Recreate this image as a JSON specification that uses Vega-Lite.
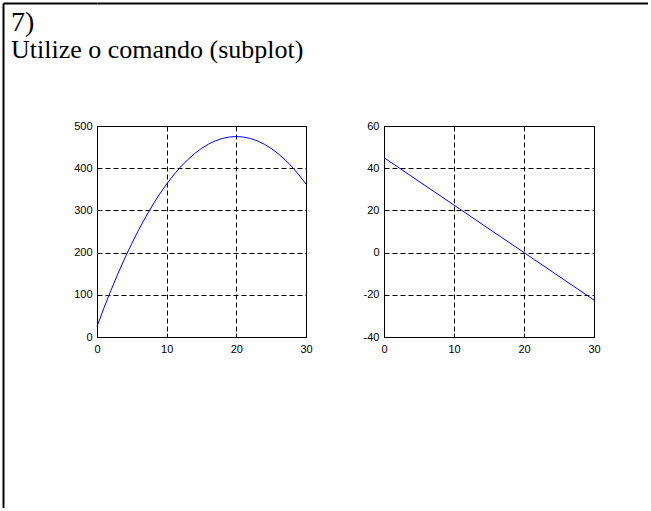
{
  "$schema": "https://vega.github.io/schema/vega-lite/v6.json",
  "background": "white",
  "padding": {"left": 3, "top": 3, "right": 0, "bottom": 0},
  "bounds": "flush",
  "spacing": 0,
  "datasets": {
    "d": [
      {"t": 0, "pos": 25, "vel": 45},
      {"t": 1, "pos": 68.875, "vel": 42.75},
      {"t": 2, "pos": 110.5, "vel": 40.5},
      {"t": 3, "pos": 149.875, "vel": 38.25},
      {"t": 4, "pos": 187, "vel": 36},
      {"t": 5, "pos": 221.875, "vel": 33.75},
      {"t": 6, "pos": 254.5, "vel": 31.5},
      {"t": 7, "pos": 284.875, "vel": 29.25},
      {"t": 8, "pos": 313, "vel": 27},
      {"t": 9, "pos": 338.875, "vel": 24.75},
      {"t": 10, "pos": 362.5, "vel": 22.5},
      {"t": 11, "pos": 383.875, "vel": 20.25},
      {"t": 12, "pos": 403, "vel": 18},
      {"t": 13, "pos": 419.875, "vel": 15.75},
      {"t": 14, "pos": 434.5, "vel": 13.5},
      {"t": 15, "pos": 446.875, "vel": 11.25},
      {"t": 16, "pos": 457, "vel": 9},
      {"t": 17, "pos": 464.875, "vel": 6.75},
      {"t": 18, "pos": 470.5, "vel": 4.5},
      {"t": 19, "pos": 473.875, "vel": 2.25},
      {"t": 20, "pos": 475, "vel": 0},
      {"t": 21, "pos": 473.875, "vel": -2.25},
      {"t": 22, "pos": 470.5, "vel": -4.5},
      {"t": 23, "pos": 464.875, "vel": -6.75},
      {"t": 24, "pos": 457, "vel": -9},
      {"t": 25, "pos": 446.875, "vel": -11.25},
      {"t": 26, "pos": 434.5, "vel": -13.5},
      {"t": 27, "pos": 419.875, "vel": -15.75},
      {"t": 28, "pos": 403, "vel": -18},
      {"t": 29, "pos": 383.875, "vel": -20.25},
      {"t": 30, "pos": 362.5, "vel": -22.5}
    ],
    "frame": [{"a": 0.5, "b": 0.5}]
  },
  "config": {
    "view": {"stroke": "black", "strokeWidth": 1},
    "axis": {
      "title": null,
      "labelFont": "Liberation Sans",
      "labelFontSize": 11,
      "labelColor": "black",
      "labelFlush": false,
      "labelOverlap": false,
      "labelExpr": "datum.value < 0 ? '-' + format(-datum.value, 'd') : format(datum.value, 'd')",
      "domainColor": "black",
      "tickColor": "black",
      "tickSize": -4,
      "gridColor": "black",
      "gridDash": [5, 3],
      "gridOpacity": 1,
      "gridWidth": 1
    },
    "axisX": {"labelPadding": 10},
    "axisY": {"labelPadding": 9}
  },
  "hconcat": [
    {
      "width": 94,
      "height": 505,
      "view": {"stroke": null},
      "data": {"name": "frame"},
      "mark": {"type": "point", "opacity": 0},
      "encoding": {
        "x": {"field": "a", "type": "quantitative", "scale": {"domain": [0, 1]},
          "axis": {"orient": "top", "domainWidth": 2, "ticks": false, "labels": false, "grid": false}},
        "y": {"field": "b", "type": "quantitative", "scale": {"domain": [0, 1]},
          "axis": {"orient": "left", "domainWidth": 2, "ticks": false, "labels": false, "grid": false}}
      }
    },
    {
      "bounds": "flush",
      "spacing": 122,
      "vconcat": [
        {
          "width": 551,
          "height": 1,
          "view": {"stroke": null},
          "data": {"name": "frame"},
          "mark": {"type": "point", "opacity": 0, "size": 1},
          "encoding": {
            "x": {"field": "a", "type": "quantitative", "scale": {"domain": [0, 1]},
              "axis": {"orient": "top", "domainWidth": 2, "ticks": false, "labels": false, "grid": false}}
          }
        },
        {
          "bounds": "flush",
          "spacing": 78,
          "title": {
            "text": "7)",
            "subtitle": "Utilize o comando (subplot)",
            "anchor": "start",
            "frame": "group",
            "dx": -86,
            "offset": 57,
            "font": "Liberation Serif",
            "fontSize": 28,
            "fontWeight": "normal",
            "color": "black",
            "subtitleFont": "Liberation Serif",
            "subtitleFontSize": 26,
            "subtitleColor": "black",
            "subtitlePadding": 0
          },
          "hconcat": [
            {
              "width": 209,
              "height": 211,
              "data": {"name": "d"},
              "mark": {"type": "line", "color": "#0000ff", "strokeWidth": 1},
              "encoding": {
                "x": {"field": "t", "type": "quantitative", "scale": {"domain": [0, 30], "nice": false},
                  "axis": {"values": [0, 10, 20, 30]}},
                "y": {"field": "pos", "type": "quantitative", "scale": {"domain": [0, 500], "nice": false},
                  "axis": {"values": [0, 100, 200, 300, 400, 500]}}
              }
            },
            {
              "width": 210,
              "height": 211,
              "data": {"name": "d"},
              "mark": {"type": "line", "color": "#0000ff", "strokeWidth": 1},
              "encoding": {
                "x": {"field": "t", "type": "quantitative", "scale": {"domain": [0, 30], "nice": false},
                  "axis": {"values": [0, 10, 20, 30]}},
                "y": {"field": "vel", "type": "quantitative", "scale": {"domain": [-40, 60], "nice": false},
                  "axis": {"values": [-40, -20, 0, 20, 40, 60]}}
              }
            }
          ]
        }
      ]
    }
  ]
}
